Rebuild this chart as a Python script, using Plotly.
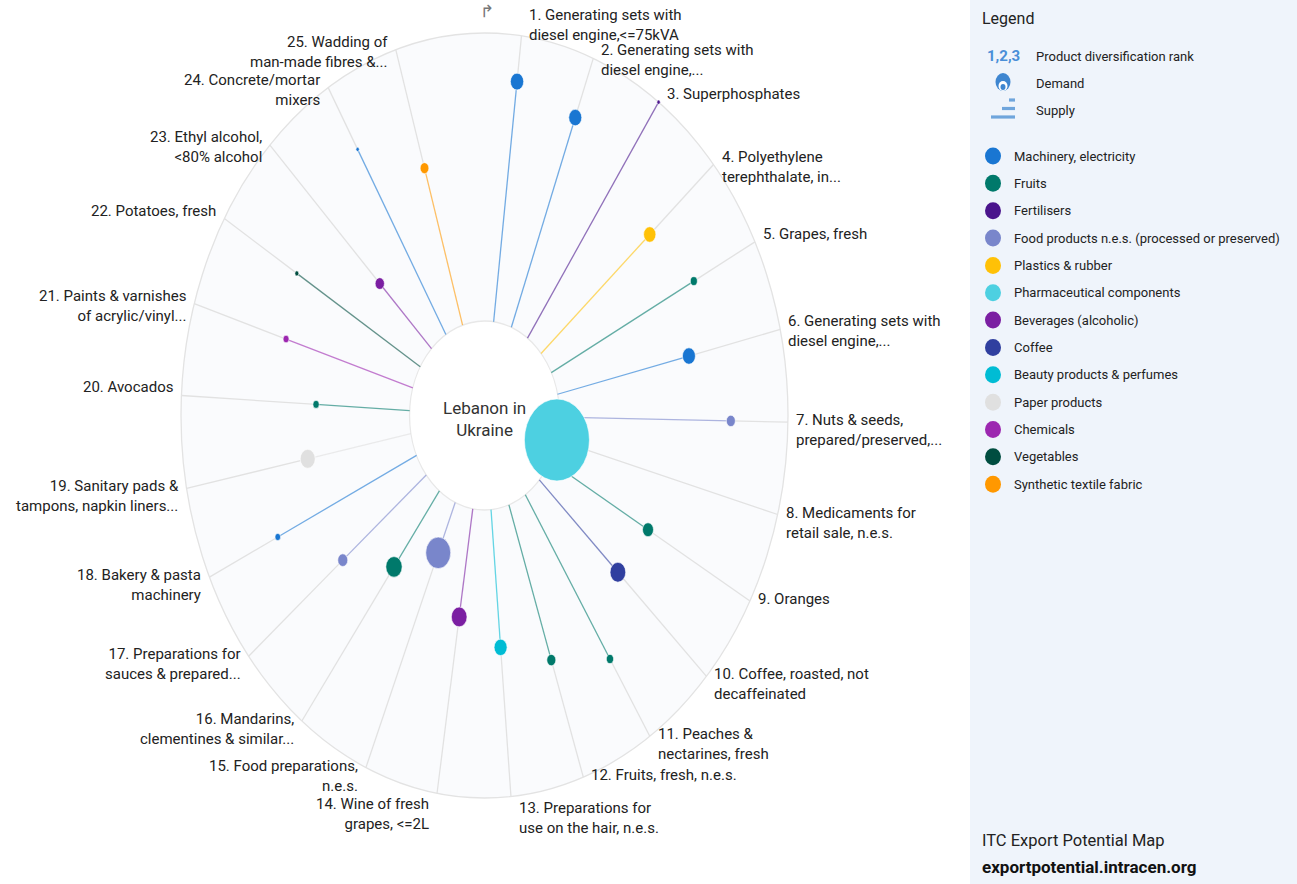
import math
import plotly.graph_objects as go

# ---- data (Lebanon -> Ukraine, product diversification) ----
products = [
    "1. Generating sets with<br>diesel engine,&lt;=75kVA",
    "2. Generating sets with<br>diesel engine,...",
    "3. Superphosphates",
    "4. Polyethylene<br>terephthalate, in...",
    "5. Grapes, fresh",
    "6. Generating sets with<br>diesel engine,...",
    "7. Nuts & seeds,<br>prepared/preserved,...",
    "8. Medicaments for<br>retail sale, n.e.s.",
    "9. Oranges",
    "10. Coffee, roasted, not<br>decaffeinated",
    "11. Peaches &<br>nectarines, fresh",
    "12. Fruits, fresh, n.e.s.",
    "13. Preparations for<br>use on the hair, n.e.s.",
    "14. Wine of fresh<br>grapes, &lt;=2L",
    "15. Food preparations,<br>n.e.s.",
    "16. Mandarins,<br>clementines & similar...",
    "17. Preparations for<br>sauces & prepared...",
    "18. Bakery & pasta<br>machinery",
    "19. Sanitary pads &<br>tampons, napkin liners...",
    "20. Avocados",
    "21. Paints & varnishes<br>of acrylic/vinyl...",
    "22. Potatoes, fresh",
    "23. Ethyl alcohol,<br>&lt;80% alcohol",
    "24. Concrete/mortar<br>mixers",
    "25. Wadding of<br>man-made fibres &...",
]

categories = [
    "Machinery, electricity", "Machinery, electricity", "Fertilisers",
    "Plastics & rubber", "Fruits", "Machinery, electricity",
    "Food products n.e.s. (processed or preserved)", "Pharmaceutical components",
    "Fruits", "Coffee", "Fruits", "Fruits", "Beauty products & perfumes",
    "Beverages (alcoholic)", "Food products n.e.s. (processed or preserved)",
    "Fruits", "Food products n.e.s. (processed or preserved)",
    "Machinery, electricity", "Paper products", "Fruits", "Chemicals",
    "Vegetables", "Beverages (alcoholic)", "Machinery, electricity",
    "Synthetic textile fabric",
]

# relative position between inner ring (0) and outer ring (1)
supply = [0.84, 0.78, 1.00, 0.63, 0.70, 0.59, 0.75, 0.00, 0.49, 0.47, 0.68, 0.57, 0.48,
          0.38, 0.19, 0.33, 0.47, 0.67, 0.46, 0.41, 0.58, 0.63, 0.32, 0.75, 0.57]

# bubble area (relative)
demand = [1.77, 1.69, 0.11, 1.51, 0.49, 1.69, 0.81, 42.3, 1.21, 2.46, 0.53, 0.81, 1.69,
          2.46, 6.25, 2.66, 1.00, 0.32, 2.25, 0.40, 0.36, 0.16, 0.86, 0.11, 0.76]

legend_names = [
    "Machinery, electricity", "Fruits", "Fertilisers",
    "Food products n.e.s. (processed or preserved)", "Plastics & rubber",
    "Pharmaceutical components", "Beverages (alcoholic)", "Coffee",
    "Beauty products & perfumes", "Paper products", "Chemicals", "Vegetables",
    "Synthetic textile fabric",
]
legend_colors = [
    "#1976d2", "#00796b", "#4a148c", "#7986cb", "#ffc107", "#4dd0e1", "#7b1fa2",
    "#303f9f", "#00bcd4", "#e0e0e0", "#9c27b0", "#004d40", "#ff9800",
]
cat_color = dict(zip(legend_names, legend_colors))

W, H = 1297, 884
X_PX, Y_PX = 303.5, 382.5      # px per data unit (chart is drawn stretched vertically)
R_IN = 0.247
START, STEP = 7.0, 14.0        # degrees, clockwise from 12 o'clock
BUBBLE_PX = 10.0               # diameter px per sqrt(demand)
FONT = "Roboto, 'Noto Sans', sans-serif"


def rgba(hexc, a):
    h = hexc.lstrip("#")
    return f"rgba({int(h[0:2], 16)},{int(h[2:4], 16)},{int(h[4:6], 16)},{a})"


def px(x):
    return x / W


def py(y):
    return 1 - y / H


theta = [math.radians(START + i * STEP) for i in range(len(products))]
r_dot = [R_IN + (1 - R_IN) * s for s in supply]

fig = go.Figure()

# gray part of each spoke (dot -> outer ring)
gx, gy = [], []
for t, r in zip(theta, r_dot):
    gx += [r * math.sin(t), math.sin(t), None]
    gy += [r * math.cos(t), math.cos(t), None]
fig.add_trace(go.Scatter(x=gx, y=gy, mode="lines", hoverinfo="skip",
                         line=dict(color="#e2e2e2", width=1.3)))

# coloured part of each spoke (inner ring -> dot)
for name in legend_names:
    cx, cy = [], []
    for t, r, c in zip(theta, r_dot, categories):
        if c != name:
            continue
        cx += [R_IN * math.sin(t), r * math.sin(t), None]
        cy += [R_IN * math.cos(t), r * math.cos(t), None]
    if cx:
        fig.add_trace(go.Scatter(x=cx, y=cy, mode="lines", hoverinfo="skip",
                                 line=dict(color=rgba(cat_color[name], 0.6), width=1.3)))

shapes = [
    # legend panel
    dict(type="rect", xref="paper", yref="paper", x0=px(970), x1=1, y0=0, y1=1,
         fillcolor="#eff4fb", line=dict(width=0), layer="below"),
    # outer disk
    dict(type="circle", xref="x", yref="y", x0=-1, x1=1, y0=-1, y1=1,
         fillcolor="#fafbfd", line=dict(color="#e3e3e3", width=1.3), layer="below"),
    # inner disk
    dict(type="circle", xref="x", yref="y", x0=-R_IN, x1=R_IN, y0=-R_IN, y1=R_IN,
         fillcolor="white", line=dict(color="#e8e8e8", width=1.3), layer="below"),
]

# bubbles
for t, r, c, d in zip(theta, r_dot, categories, demand):
    rad = BUBBLE_PX * math.sqrt(d) / 2 / X_PX
    x0, y0 = r * math.sin(t), r * math.cos(t)
    shapes.append(dict(type="circle", xref="x", yref="y",
                       x0=x0 - rad, x1=x0 + rad, y0=y0 - rad, y1=y0 + rad,
                       fillcolor=cat_color[c], line=dict(color="white", width=0.6)))

annotations = []
# spoke labels
for t, lab in zip(theta, products):
    s, c = math.sin(t), math.cos(t)
    if c > 0.98:
        ys = 32
    elif c < -0.98:
        ys = 0
    elif c > 0:
        ys = 19
    else:
        ys = 13
    annotations.append(dict(
        x=s, y=c, xref="x", yref="y", text=lab, showarrow=False,
        xanchor="left" if s > 0 else "right", yanchor="top", align="left" if s > 0 else "right",
        xshift=6 if s > 0 else -6, yshift=ys,
        font=dict(family=FONT, size=15, color="#222")))

# centre label and start marker
annotations.append(dict(x=0, y=0, xref="x", yref="y", text="Lebanon in<br>Ukraine",
                        showarrow=False, yshift=-3,
                        font=dict(family=FONT, size=17, color="#333")))
annotations.append(dict(x=0, y=1, xref="x", yref="y", text="↱", showarrow=False,
                        xshift=2, yshift=22,
                        font=dict(family="DejaVu Sans", size=17, color="#777")))

# legend panel (drawn by hand)
annotations.append(dict(x=px(980), y=py(18), xref="paper", yref="paper", text="Legend",
                        showarrow=False, xanchor="left", yanchor="middle",
                        font=dict(family=FONT, size=16, color="#222")))
annotations.append(dict(x=px(1003), y=py(56), xref="paper", yref="paper", text="<b>1,2,3</b>",
                        showarrow=False, xanchor="center", yanchor="middle",
                        font=dict(family=FONT, size=15, color="#4a8fd8")))
for yy, txt in [(56, "Product diversification rank"), (83, "Demand"), (110, "Supply")]:
    annotations.append(dict(x=px(1034), y=py(yy), xref="paper", yref="paper", text=txt,
                            showarrow=False, xanchor="left", yanchor="middle",
                            font=dict(family=FONT, size=13, color="#222")))

# demand icon
for cxp, cyp, w, h, col in [(1003, 82, 15, 18, "#3f86d0"), (1003, 86, 9, 10, "white"),
                            (1003, 87, 5, 6, "#3f86d0")]:
    shapes.append(dict(type="circle", xref="paper", yref="paper",
                       x0=px(cxp - w / 2), x1=px(cxp + w / 2),
                       y0=py(cyp + h / 2), y1=py(cyp - h / 2),
                       fillcolor=col, line=dict(width=0)))
# supply icon
for x0p, x1p, yc in [(1009, 1015, 100), (1002, 1015, 108.5), (991, 1015, 117)]:
    shapes.append(dict(type="rect", xref="paper", yref="paper",
                       x0=px(x0p), x1=px(x1p), y0=py(yc + 1.6), y1=py(yc - 1.6),
                       fillcolor="#6fa5dc", line=dict(width=0)))

for i, (name, col) in enumerate(zip(legend_names, legend_colors)):
    yc = 156 + i * 27.35
    shapes.append(dict(type="circle", xref="paper", yref="paper",
                       x0=px(985), x1=px(1001), y0=py(yc + 8.5), y1=py(yc - 8.5),
                       fillcolor=col, line=dict(width=0)))
    annotations.append(dict(x=px(1012), y=py(yc), xref="paper", yref="paper", text=name,
                            showarrow=False, xanchor="left", yanchor="middle",
                            font=dict(family=FONT, size=13, color="#222")))

annotations.append(dict(x=px(980), y=py(840), xref="paper", yref="paper",
                        text="ITC Export Potential Map", showarrow=False,
                        xanchor="left", yanchor="middle",
                        font=dict(family=FONT, size=16.5, color="#222")))
annotations.append(dict(x=px(980), y=py(867), xref="paper", yref="paper",
                        text="<b>exportpotential.intracen.org</b>", showarrow=False,
                        xanchor="left", yanchor="middle",
                        font=dict(family=FONT, size=17, color="#111")))

fig.update_layout(
    width=W, height=H, margin=dict(l=0, r=0, t=0, b=0),
    paper_bgcolor="white", plot_bgcolor="white", showlegend=False,
    xaxis=dict(range=[-1 - 181 / X_PX, -1 - 181 / X_PX + W / X_PX], visible=False, fixedrange=True),
    yaxis=dict(range=[1 + 33 / Y_PX - H / Y_PX, 1 + 33 / Y_PX], visible=False, fixedrange=True),
    shapes=shapes, annotations=annotations,
)

fig.write_html("out.html", config={"displayModeBar": False},
               post_script="document.body.style.margin='0';document.body.style.overflow='hidden';")
